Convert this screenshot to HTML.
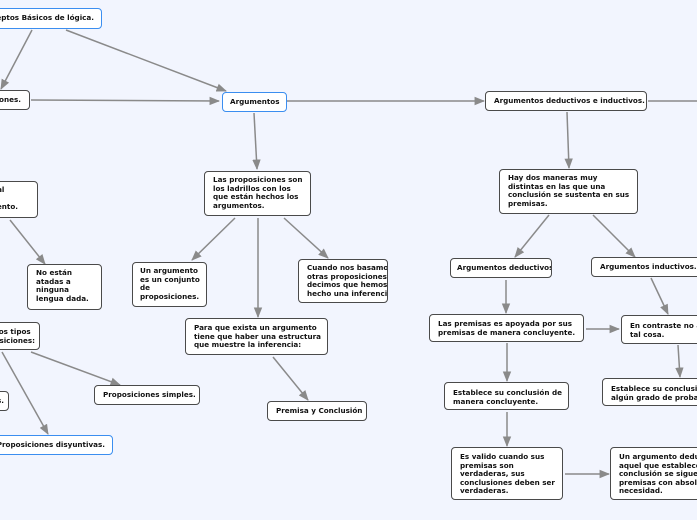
<!DOCTYPE html>
<html><head><meta charset="utf-8"><style>
body{margin:0;width:697px;height:520px;background:#f2f5fe;position:relative;overflow:hidden;font-family:"DejaVu Sans","Liberation Sans",sans-serif;}
.n{position:absolute;box-sizing:border-box;background:#fff;border:1.5px solid #4a4a4a;border-radius:4px;font-size:7.2px;font-weight:bold;color:#111;line-height:8.6px;padding:4px 8px;white-space:nowrap;overflow:hidden}
.b{border-color:#3b8ef0}
.n span.t{position:absolute;top:0;text-align:right}
svg{position:absolute;left:0;top:0}
</style></head><body>
<svg width="697" height="520">
<defs><marker id="a" viewBox="0 0 10 10" refX="9" refY="5" markerWidth="7" markerHeight="7" orient="auto"><path d="M0,1 L10,5 L0,9 z" fill="#8a8a8a"/></marker></defs>
<g stroke="#8a8a8a" stroke-width="1.5" fill="none" marker-end="url(#a)">
<line x1="32" y1="30" x2="1" y2="89"/>
<line x1="66" y1="30" x2="226" y2="91"/>
<line x1="31" y1="100" x2="219" y2="101"/>
<line x1="287" y1="101" x2="484" y2="101"/>
<line x1="254" y1="113" x2="257" y2="169"/>
<line x1="235" y1="218" x2="192" y2="260"/>
<line x1="258" y1="218" x2="258" y2="317"/>
<line x1="284" y1="218" x2="328" y2="258"/>
<line x1="10" y1="220" x2="45" y2="264"/>
<line x1="31" y1="352" x2="120" y2="385"/>
<line x1="2" y1="352" x2="48" y2="434"/>
<line x1="273" y1="357" x2="308" y2="400"/>
<line x1="567" y1="112" x2="569" y2="168"/>
<line x1="549" y1="215" x2="515" y2="257"/>
<line x1="593" y1="215" x2="635" y2="257"/>
<line x1="506" y1="280" x2="506" y2="313"/>
<line x1="651" y1="278" x2="668" y2="314"/>
<line x1="586" y1="329" x2="619" y2="329"/>
<line x1="507" y1="343" x2="507" y2="381"/>
<line x1="678" y1="345" x2="680" y2="377"/>
<line x1="507" y1="412" x2="507" y2="446"/>
<line x1="565" y1="474" x2="609" y2="474"/>
</g>
<line x1="648" y1="101" x2="697" y2="101" stroke="#8a8a8a" stroke-width="1.5"/>
</svg>
<div class="n b" style="left:-20px;top:8px;width:122px;height:21px"><span class="t" style="right:7px;top:5px">Conceptos Básicos de lógica.</span></div>
<div class="n" style="left:-20px;top:90px;width:50px;height:20px"><span class="t" style="right:8px;top:5px">Proposiciones.</span></div>
<div class="n b" style="left:222px;top:92px;width:65px;height:20px;padding:5px 7px">Argumentos</div>
<div class="n" style="left:485px;top:91px;width:162px;height:20px;padding:5px 8px">Argumentos deductivos e inductivos.</div>
<div class="n" style="left:204px;top:171px;width:107px;height:45px">Las proposiciones son<br>los ladrillos con los<br>que están hechos los<br>argumentos.</div>
<div class="n" style="left:-20px;top:181px;width:58px;height:37px"><span class="t" style="right:19px;top:4px;text-align:left">Material<br>de<br>argumento.</span></div>
<div class="n" style="left:27px;top:264px;width:75px;height:46px">No están<br>atadas a<br>ninguna<br>lengua dada.</div>
<div class="n" style="left:132px;top:262px;width:75px;height:45px;padding:4px 7px">Un argumento<br>es un conjunto<br>de<br>proposiciones.</div>
<div class="n" style="left:298px;top:259px;width:90px;height:44px;padding:4px 8px">Cuando nos basamos en<br>otras proposiciones<br>decimos que hemos<br>hecho una inferencia.</div>
<div class="n" style="left:185px;top:318px;width:143px;height:37px;padding:5px 8px">Para que exista un argumento<br>tiene que haber una estructura<br>que muestre la inferencia:</div>
<div class="n" style="left:-20px;top:322px;width:60px;height:28px"><span class="t" style="right:4px;top:5px;text-align:left">Hay dos tipos<br>proposiciones:</span></div>
<div class="n" style="left:94px;top:385px;width:106px;height:20px;padding:5px 8px">Proposiciones simples.</div>
<div class="n" style="left:-20px;top:391px;width:29px;height:20px"><span class="t" style="right:4px;top:5px">compuestas.</span></div>
<div class="n" style="left:267px;top:401px;width:100px;height:20px;padding:5px 8px">Premisa y Conclusión</div>
<div class="n b" style="left:-20px;top:435px;width:133px;height:20px"><span class="t" style="right:7px;top:5px">Proposiciones disyuntivas.</span></div>
<div class="n" style="left:499px;top:169px;width:139px;height:45px">Hay dos maneras muy<br>distintas en las que una<br>conclusión se sustenta en sus<br>premisas.</div>
<div class="n" style="left:450px;top:258px;width:102px;height:20px;padding:5px 6px">Argumentos deductivos.</div>
<div class="n" style="left:591px;top:257px;width:120px;height:20px;padding:5px 8px">Argumentos inductivos.</div>
<div class="n" style="left:429px;top:314px;width:155px;height:28px;padding:5px 8px">Las premisas es apoyada por sus<br>premisas de manera concluyente.</div>
<div class="n" style="left:621px;top:315px;width:90px;height:29px;padding:6px 8px">En contraste no afirman<br>tal cosa.</div>
<div class="n" style="left:444px;top:382px;width:125px;height:28px;padding:6px 8px">Establece su conclusión de<br>manera concluyente.</div>
<div class="n" style="left:602px;top:378px;width:110px;height:28px;padding:6px 8px">Establece su conclusión con<br>algún grado de probabilidad.</div>
<div class="n" style="left:451px;top:447px;width:112px;height:53px;padding:5px 8px">Es valido cuando sus<br>premisas son<br>verdaderas, sus<br>conclusiones deben ser<br>verdaderas.</div>
<div class="n" style="left:610px;top:447px;width:100px;height:53px;padding:5px 8px">Un argumento deductivo es<br>aquel que establece que su<br>conclusión se sigue de sus<br>premisas con absoluta<br>necesidad.</div>
</body></html>
